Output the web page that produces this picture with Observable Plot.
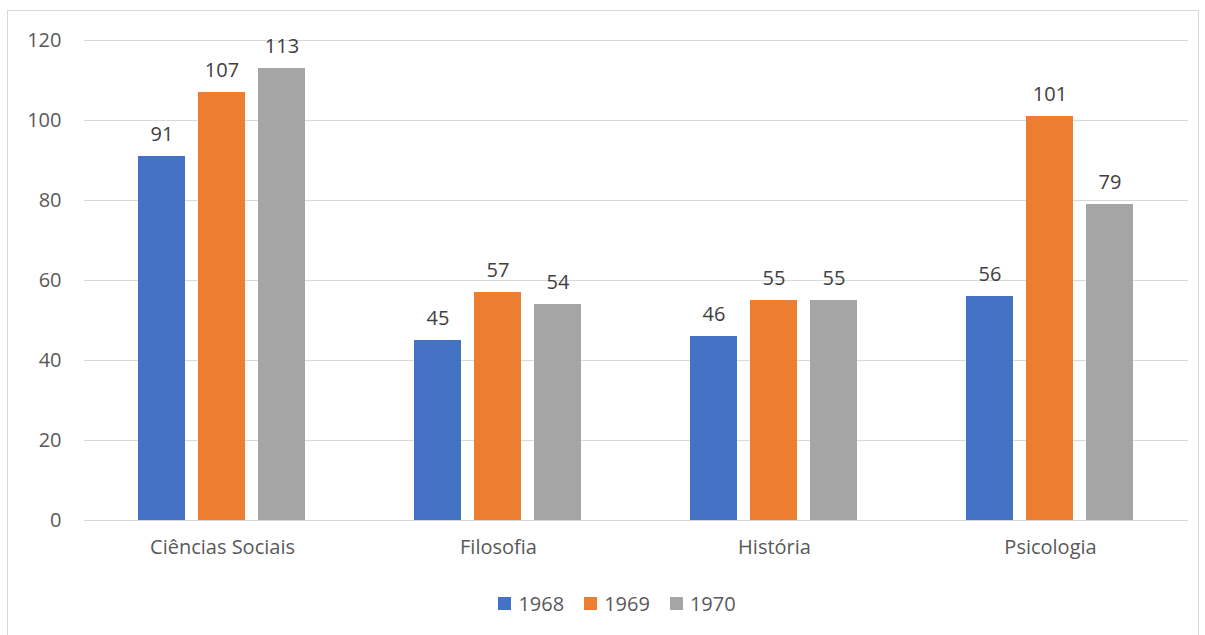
<!DOCTYPE html>
<html>
<head>
<meta charset="utf-8">
<script src="https://cdn.jsdelivr.net/npm/d3@7"></script>
<script src="https://cdn.jsdelivr.net/npm/@observablehq/plot@0.6"></script>
<style>
  body { margin: 0; background: #fff; font-family: "Open Sans", sans-serif; }
  #frame { position: absolute; left: 7px; top: 10px; width: 1192px; height: 640px; border: 1px solid #d9d9d9; box-sizing: border-box; }
  #chart { position: absolute; left: 0; top: 0; }
  #legend { position: absolute; top: 590px; left: 0; width: 1234px; display: flex; justify-content: center; gap: 20px; font-size: 20px; color: #595959; }
  #legend span.item { display: inline-flex; align-items: center; gap: 7px; }
  #legend span.sw { display: inline-block; width: 13px; height: 13px; }
</style>
</head>
<body>
<div id="frame"></div>
<div id="chart"></div>
<div id="legend"></div>
<script>
const categories = ["Ciências Sociais", "Filosofia", "História", "Psicologia"];
const years = ["1968", "1969", "1970"];
const values1968 = [91, 45, 46, 56];
const values1969 = [107, 57, 55, 101];
const values1970 = [113, 54, 55, 79];
const yTicks = [0, 20, 40, 60, 80, 100, 120];
const colors = ["#4472C4", "#ED7D31", "#A5A5A5"];

const series = [values1968, values1969, values1970];
const data = [];
categories.forEach((c, i) => years.forEach((y, j) => data.push({cat: c, year: y, value: series[j][i]})));

const plot = Plot.plot({
  width: 1205,
  height: 580,
  marginLeft: 84,
  marginRight: 17,
  marginTop: 40,
  marginBottom: 60,
  style: {fontFamily: "'Open Sans', sans-serif", fontSize: "20px", color: "#595959", background: "transparent"},
  fx: {domain: categories, padding: 0, label: null},
  x: {domain: years, paddingInner: 0.213, paddingOuter: 0.869, axis: null},
  y: {domain: [0, 120], label: null},
  color: {domain: years, range: colors},
  marks: [
    Plot.gridY(yTicks, {stroke: "#d9d9d9", strokeOpacity: 1, strokeWidth: 1}),
    Plot.axisY(yTicks, {tickSize: 0, tickPadding: 23, fontSize: 20, label: null, fill: "#595959"}),
    Plot.axisFx({anchor: "bottom", tickSize: 0, tickPadding: 19, fontSize: 20, label: null, fill: "#595959"}),
    Plot.barY(data, {fx: "cat", x: "year", y: "value", fill: "year"}),
    Plot.text(data, {fx: "cat", x: "year", y: "value", text: d => String(d.value), lineAnchor: "bottom", dy: -16, fontSize: 20, fill: "#404040"})
  ]
});
document.getElementById("chart").appendChild(plot);

const legend = document.getElementById("legend");
years.forEach((y, j) => {
  const item = document.createElement("span");
  item.className = "item";
  const sw = document.createElement("span");
  sw.className = "sw";
  sw.style.background = colors[j];
  item.appendChild(sw);
  item.appendChild(document.createTextNode(y));
  legend.appendChild(item);
});
</script>
</body>
</html>
